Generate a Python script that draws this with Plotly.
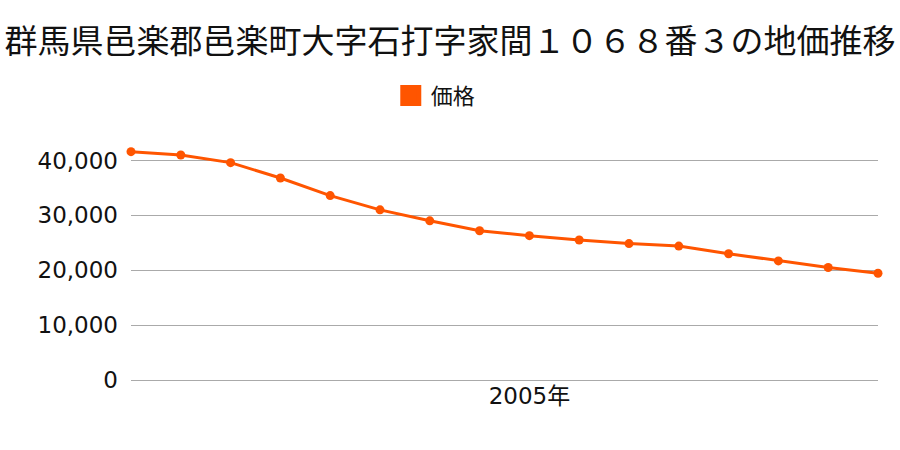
import plotly.graph_objects as go

years = list(range(1997, 2013))
prices = [41600, 41000, 39600, 36800, 33600, 31000, 29000, 27200,
          26300, 25500, 24850, 24400, 23000, 21700, 20500, 19450]
series_name = "価格"
title_text = "群馬県邑楽郡邑楽町大字石打字家間１０６８番３の地価推移"
xtick_vals = [2005]
xtick_text = ["2005年"]
ytick_vals = [0, 10000, 20000, 30000, 40000]

color = "#FF5500"
cjk = "Noto Sans CJK JP"
tick_font = "DejaVu Sans, Noto Sans CJK JP"

fig = go.Figure()
fig.add_trace(go.Scatter(
    x=years, y=prices, name=series_name, mode="lines+markers",
    line=dict(color=color, width=3),
    marker=dict(color=color, size=9, symbol="circle"),
    cliponaxis=False, showlegend=False,
))
# legend-only entry showing a square swatch
fig.add_trace(go.Scatter(
    x=[None], y=[None], name=series_name, mode="markers",
    marker=dict(color=color, size=16, symbol="square",
                line=dict(color=color, width=5)),
    showlegend=True,
))

fig.update_layout(
    width=900, height=450,
    margin=dict(l=131, r=22, t=132.5, b=70),
    paper_bgcolor="white", plot_bgcolor="white",
    font=dict(family=cjk, color="#111111", size=19),
    title=dict(text=title_text, x=0.5, xanchor="center", y=1 - 41 / 450,
               yanchor="middle", font=dict(size=33, family=cjk, color="#111111")),
    showlegend=True,
    legend=dict(orientation="h", x=0.408, xanchor="center", y=(380 - 95) / 247.5,
                yanchor="middle", font=dict(size=22, family=cjk)),
    xaxis=dict(range=[1997, 2012], tickvals=xtick_vals, ticktext=xtick_text,
               showgrid=False, zeroline=False, showline=False, ticks="",
               tickfont=dict(size=23, family=tick_font)),
    yaxis=dict(range=[0, 45000], tickvals=ytick_vals, tickformat=",",
               showgrid=True, gridcolor="#AAAAAA", gridwidth=1,
               zeroline=True, zerolinecolor="#AAAAAA", zerolinewidth=1,
               showline=False, ticks="",
               ticklabelstandoff=12, tickfont=dict(size=23, family=tick_font)),
)

fig.write_html("out.html")
